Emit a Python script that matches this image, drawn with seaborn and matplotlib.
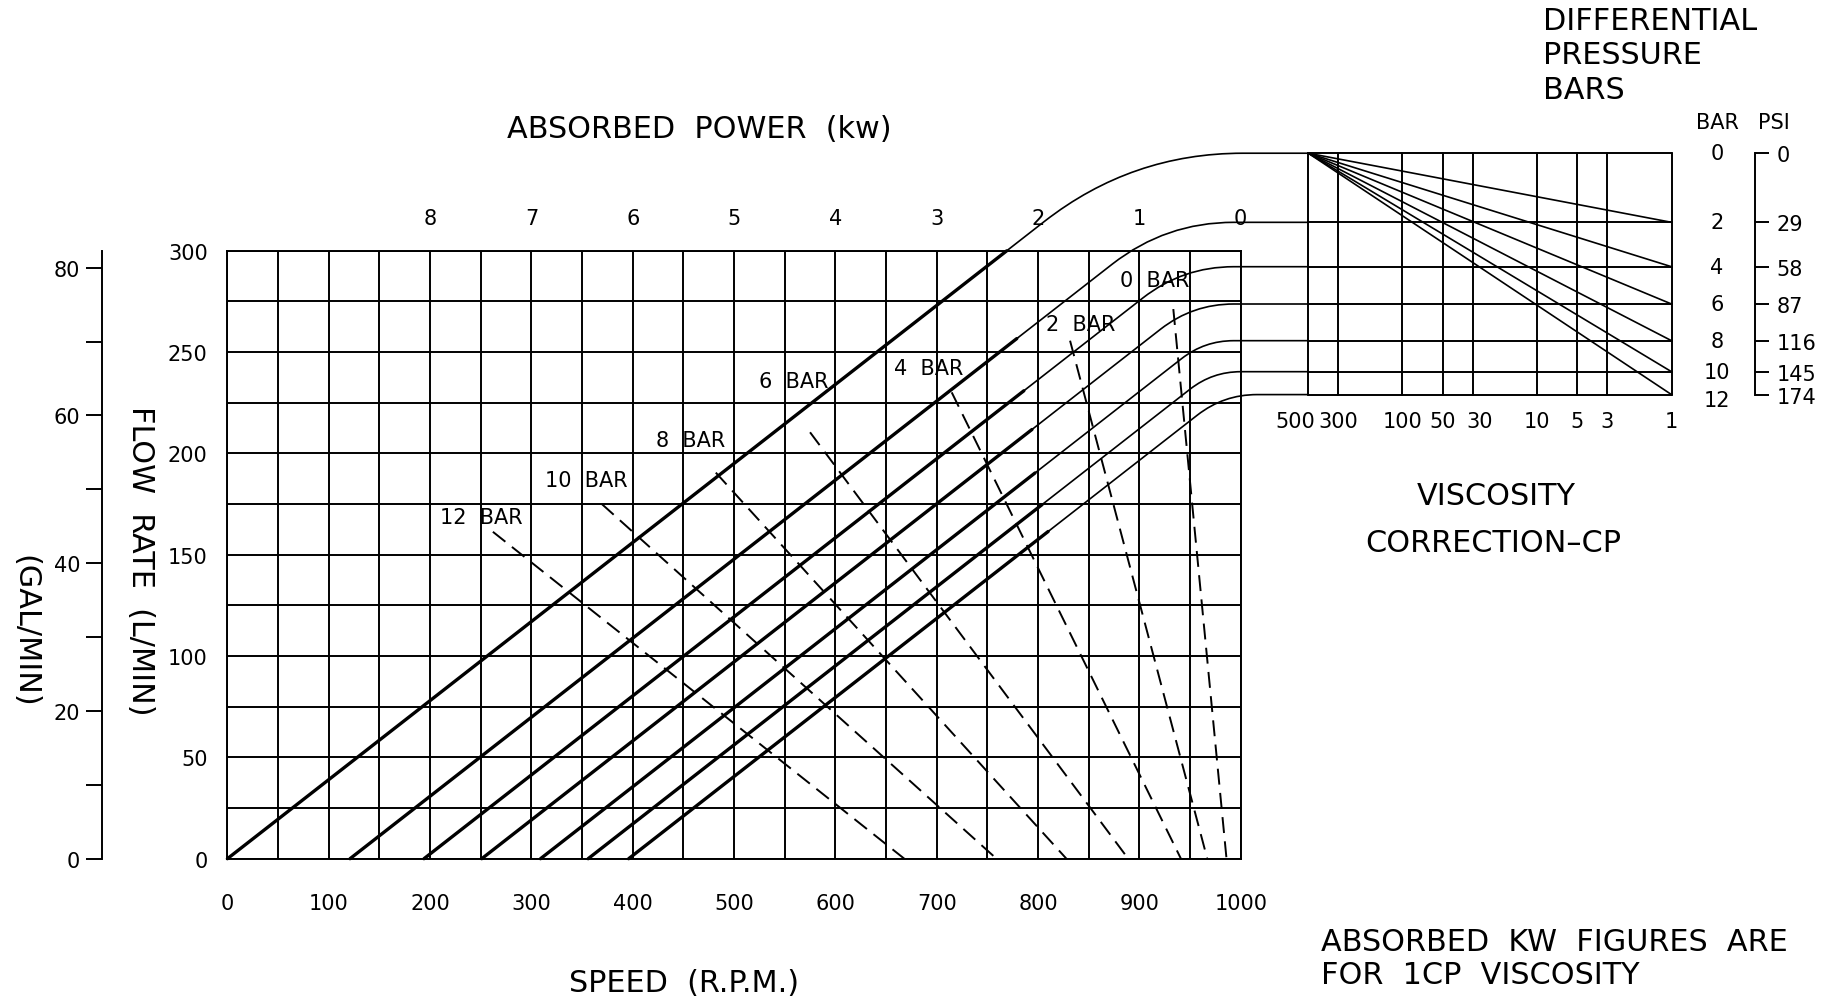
import numpy as np
import pandas as pd
import matplotlib
matplotlib.use("Agg")
import matplotlib.pyplot as plt
import seaborn as sns
from matplotlib.path import Path
from matplotlib.patches import PathPatch
from matplotlib.transforms import ScaledTranslation

# ---------------- data ----------------
speed_ticks = [0, 100, 200, 300, 400, 500, 600, 700, 800, 900, 1000]
flow_ticks = [0, 50, 100, 150, 200, 250, 300]
gal_ticks = [0, 10, 20, 30, 40, 50, 60, 70, 80]
gal_labels = ["0", "", "20", "", "40", "", "60", "", "80"]
litres_per_gal = 3.645            # as drawn on the chart
power_kw = [8, 7, 6, 5, 4, 3, 2, 1, 0]

pressure_bar = [0, 2, 4, 6, 8, 10, 12]
pressure_psi = [0, 29, 58, 87, 116, 145, 174]
line_zero_rpm = [0, 121, 194, 251, 309, 356, 396]     # speed at zero flow
line_slope = 0.39                                      # L/min per rpm
bold_end_rpm = [769, 779, 786, 794, 797, 804, 810]
row_level = [348.1, 314.0, 292.1, 273.7, 255.6, 240.3, 229.0]  # pressure rows (flow units)
bend_end_rpm = [1002, 993, 993, 993, 993, 1000, 1016]

power_top_rpm = [933.5, 831.6, 714.8, 575.0, 482.0, 369.5, 262.0]
power_top_flow = [271.2, 255.6, 230.1, 210.4, 190.5, 175.0, 161.3]
power_zero_rpm = [986, 967, 941, 889, 828, 759, 668]

viscosity_cp = [500, 300, 100, 50, 30, 10, 5, 3, 1]

# ---------------- style ----------------
sns.set_theme(style="white", rc={"axes.edgecolor": "black", "xtick.color": "black",
                                 "ytick.color": "black", "text.color": "black"})
plt.rcParams["font.family"] = ["DejaVu Sans"]
SMALL, BIG = 15, 21.8
GRID_LW, BOLD_LW, THIN_LW, DASH_LW = 1.4, 2.4, 1.2, 1.4

W, H = 1836, 1003
def fx(px):
    return px / W
def fy(py):
    return 1 - py / H

fig = plt.figure(figsize=(W / 100, H / 100), dpi=100)
fig.patch.set_facecolor("white")

# main grid box (pixel placement)
GL, GR, GT, GB = 227.4, 1240.7, 251.7, 859.7
ax = fig.add_axes([fx(GL), fy(GB), (GR - GL) / W, (GB - GT) / H])
ax.set_xlim(0, 1000)
ax.set_ylim(0, 300)
ax.set_facecolor("none")
ax.set_xticks(speed_ticks)
ax.set_xticks(np.arange(0, 1001, 50), minor=True)
ax.set_yticks(flow_ticks)
ax.set_yticks(np.arange(0, 301, 25), minor=True)
ax.grid(True, which="both", color="black", lw=GRID_LW)
ax.tick_params(axis="x", which="both", length=0, pad=24.5, labelsize=SMALL)
ax.tick_params(axis="y", which="both", length=0, pad=14.2, labelsize=SMALL)
for s in ax.spines.values():
    s.set_color("black")
    s.set_linewidth(GRID_LW)

# top power scale
tax = ax.twiny()
tax.set_xlim(10, 0)
tax.set_xticks(power_kw)
tax.set_xticklabels([str(k) for k in power_kw])
tax.tick_params(axis="x", length=0, pad=16.3, labelsize=SMALL, top=True, labeltop=True)
for s in tax.spines.values():
    s.set_visible(False)

# gallons axis
gax = fig.add_axes([fx(102.3), fy(GB), 20 / W, (GB - GT) / H])
gax.set_ylim(0, 300 / litres_per_gal)
gax.set_yticks(gal_ticks)
gax.set_yticklabels(gal_labels)
gax.set_xticks([])
gax.patch.set_alpha(0)
for k, s in gax.spines.items():
    s.set_visible(k == "left")
gax.spines["left"].set_linewidth(GRID_LW)
gax.spines["left"].set_color("black")
gax.tick_params(axis="y", direction="out", left=True, length=11.2, width=GRID_LW,
                pad=4.8, labelsize=SMALL)

# ---------------- bold speed/flow lines ----------------
rows = []
for b, x0, xe in zip(pressure_bar, line_zero_rpm, bold_end_rpm):
    rows.append({"bar": b, "rpm": x0, "flow": 0.0})
    rows.append({"bar": b, "rpm": xe, "flow": line_slope * (xe - x0)})
bold_df = pd.DataFrame(rows)
sns.lineplot(data=bold_df, x="rpm", y="flow", units="bar", estimator=None, sort=False,
             color="black", linewidth=BOLD_LW, ax=ax, legend=False, clip_on=False)

# ---------------- dashed power lines ----------------
rows = []
for b, xt, yt, xz in zip(pressure_bar, power_top_rpm, power_top_flow, power_zero_rpm):
    rows.append({"bar": b, "rpm": xt, "flow": yt})
    rows.append({"bar": b, "rpm": xz, "flow": 0.0})
dash_df = pd.DataFrame(rows)
sns.lineplot(data=dash_df, x="rpm", y="flow", units="bar", estimator=None, sort=False,
             color="black", linewidth=DASH_LW, linestyle=(0, (8.2, 4.3)), ax=ax,
             legend=False)
ax.set_xlabel("")
ax.set_ylabel("")

# pressure labels next to the dashed lines
label_pos = [(881, 285.3), (808, 263.8), (658, 242.1), (525, 235.7),
             (423, 206.6), (313, 186.9), (210, 168.6)]
for b, (lx, ly) in zip(pressure_bar, label_pos):
    ax.text(lx, ly, f"{b}  BAR", ha="left", va="center", fontsize=SMALL, clip_on=False)

# ---------------- viscosity correction box ----------------
VL, VR = 1308.3, 1671.5
def flow_to_fig(f):
    return fy(GB) + f / 300 * (GB - GT) / H
vb = flow_to_fig(row_level[-1])
vt = flow_to_fig(row_level[0])
vax = fig.add_axes([fx(VL), vb, (VR - VL) / W, vt - vb])
vax.set_xscale("log")
vax.set_xlim(500, 1)
vax.set_ylim(row_level[-1], row_level[0])
vax.patch.set_alpha(0)
for s in vax.spines.values():
    s.set_visible(False)
vax.set_yticks([])
vax.xaxis.set_minor_locator(matplotlib.ticker.NullLocator())
vax.set_xticks(viscosity_cp)
vax.set_xticklabels([str(v) for v in viscosity_cp])
vax.tick_params(axis="x", length=0, pad=12.0, labelsize=SMALL, bottom=True)
nudges = {500: -13, 30: 7}
for v, lab in zip(viscosity_cp, vax.get_xticklabels()):
    if v in nudges:
        lab.set_transform(lab.get_transform() + ScaledTranslation(nudges[v] / 100, 0, fig.dpi_scale_trans))
for v in viscosity_cp:
    vax.plot([v, v], [row_level[-1], row_level[0]], color="black", lw=GRID_LW, clip_on=False)
for r in row_level:
    vax.plot([500, 1], [r, r], color="black", lw=GRID_LW, clip_on=False)
for r in row_level[1:]:
    vax.plot([500, 1], [row_level[0], r], color="black", lw=THIN_LW, clip_on=False)

# bar / psi scales
tr = vax.get_yaxis_transform()
for b, r in zip(pressure_bar, row_level):
    shift = -2.5 if b == 12 else 0.0
    vax.text(1.1253, r + shift, str(b), transform=tr, ha="center", va="center", fontsize=SMALL)

PX = 1755.2
pax = fig.add_axes([fx(PX - 20), vb, 20 / W, vt - vb])
pax.set_ylim(row_level[-1], row_level[0])
pax.patch.set_alpha(0)
for k, s in pax.spines.items():
    s.set_visible(k == "right")
pax.spines["right"].set_linewidth(GRID_LW)
pax.spines["right"].set_color("black")
pax.set_xticks([])
pax.yaxis.tick_right()
pax.set_yticks(row_level)
pax.set_yticklabels([str(p) for p in pressure_psi])
pax.tick_params(axis="y", direction="out", right=True, left=False, length=10.2,
                width=GRID_LW, pad=5.2, labelsize=SMALL)

# ---------------- thin continuations bending into the pressure rows ----------------
p0 = ax.transData.transform((0, 0))
p1 = ax.transData.transform((1, 1))
sx, sy = p1 - p0
box_left_rpm = ax.transData.inverted().transform(vax.transAxes.transform((0, 0)))[0]
per_rpm = np.hypot(sx, line_slope * sy)
for x0, xe, r, xend in zip(line_zero_rpm, bold_end_rpm, row_level, bend_end_rpm):
    corner = x0 + r / line_slope
    leg = (xend - corner) * sx
    xs = corner - leg / per_rpm
    verts = [(xe, line_slope * (xe - x0)), (xs, line_slope * (xs - x0)),
             (corner, r), (xend, r), (box_left_rpm, r)]
    codes = [Path.MOVETO, Path.LINETO, Path.CURVE3, Path.CURVE3, Path.LINETO]
    ax.add_patch(PathPatch(Path(verts, codes), fill=False, edgecolor="black",
                           lw=THIN_LW, clip_on=False))

# ---------------- titles and notes ----------------
fig.text(fx(699.5), fy(129), "ABSORBED  POWER  (kw)", ha="center", va="center", fontsize=BIG)
fig.text(fx(684), fy(983.6), "SPEED  (R.P.M.)", ha="center", va="center", fontsize=BIG)
fig.text(fx(140), fy(561), "FLOW  RATE  (L/MIN)", ha="center", va="center",
         rotation=270, fontsize=BIG)
fig.text(fx(25), fy(631), "(GAL/MIN)", ha="center", va="center", rotation=270, fontsize=BIG)
for txt, py in zip(["DIFFERENTIAL", "PRESSURE", "BARS"], [21.1, 55.0, 90.2]):
    fig.text(fx(1543), fy(py), txt, ha="left", va="center", fontsize=BIG)
fig.text(fx(1717), fy(123.4), "BAR", ha="center", va="center", fontsize=SMALL)
fig.text(fx(1774), fy(123.4), "PSI", ha="center", va="center", fontsize=SMALL)
fig.text(fx(1496.5), fy(496.5), "VISCOSITY", ha="center", va="center", fontsize=BIG)
fig.text(fx(1493), fy(543.3), "CORRECTION\u2013CP", ha="center", va="center", fontsize=BIG)
fig.text(fx(1321), fy(942.6), "ABSORBED  KW  FIGURES  ARE", ha="left", va="center", fontsize=BIG)
fig.text(fx(1321), fy(975.4), "FOR  1CP  VISCOSITY", ha="left", va="center", fontsize=BIG)

fig.savefig("out.png", dpi=100, facecolor="white")
